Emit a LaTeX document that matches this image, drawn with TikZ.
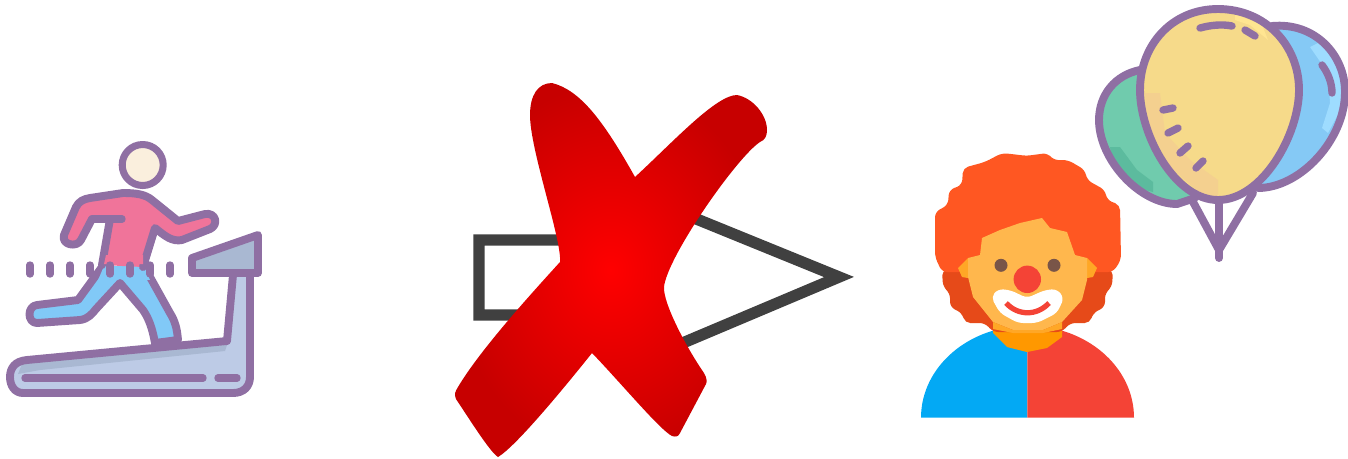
\documentclass[tikz,border=0pt]{standalone}
\usepackage{xcolor}
\usetikzlibrary{calc}
\definecolor{iconpurple}{HTML}{8F6FA3}
\definecolor{skincream}{HTML}{FAEFDD}
\definecolor{shirtpink}{HTML}{F0749A}
\definecolor{legblue}{HTML}{81C9F7}
\definecolor{deckblue}{HTML}{BDCBE6}
\definecolor{deckshade}{HTML}{A9B8D2}
\definecolor{arrowgray}{HTML}{404040}
\definecolor{hairorange}{HTML}{FF5722}
\definecolor{hairdark}{HTML}{E64A19}
\definecolor{clownface}{HTML}{FFB74D}
\definecolor{clownear}{HTML}{FFA726}
\definecolor{neckorange}{HTML}{FF9800}
\definecolor{clownblue}{HTML}{03A9F4}
\definecolor{clownred}{HTML}{F44336}
\definecolor{eyebrown}{HTML}{795548}
\definecolor{balloongreen}{HTML}{70CBAD}
\definecolor{greenshade}{HTML}{5CBB9E}
\definecolor{balloonblue}{HTML}{85C9F5}
\definecolor{bluelight}{HTML}{9EDCFF}
\definecolor{balloonyellow}{HTML}{F6DA8A}
\definecolor{yellowshade}{HTML}{F4D08F}
\definecolor{yellowlight}{HTML}{FFE591}
\tikzset{
  iconline/.style={draw=iconpurple,line width=4.5pt,line join=round,line cap=round},
  icontick/.style={iconpurple,line width=4.2pt,line cap=round}
}
\begin{document}
\begin{tikzpicture}[x=0.02cm,y=-0.02cm]
  \useasboundingbox (0,0) rectangle (1348,458);
  % treadmill
  \fill[deckblue] (233,275) -- (227,341) -- (27,360) .. controls (15,361) and (10,368) .. (10,377)
        .. controls (10,386) and (15,393) .. (23,393) -- (233,393)
        .. controls (244,393) and (250,386) .. (250,377) -- (250,275) -- cycle;
  \fill[deckshade] (227,345) -- (225,351) -- (40,370) -- (18,374) -- (22,364) -- (40,358) -- cycle;
  \draw[iconline] (233,275) -- (227,341) -- (27,360) .. controls (15,361) and (10,368) .. (10,377)
        .. controls (10,386) and (15,393) .. (23,393) -- (233,393)
        .. controls (244,393) and (250,386) .. (250,377) -- (250,275);
  \draw[icontick] (25,378) -- (203,378);
  \draw[icontick] (218,378) -- (237,378);
  \draw[iconline,fill=deckshade] (192,258) -- (258,235) -- (258,273) -- (192,273) -- cycle;
  % runner
  \draw[iconline,fill=legblue] (102,267) -- (78,300) -- (37,305) .. controls (27,306) and (27,323) .. (37,323)
        -- (80,320) .. controls (88,319) and (92,314) .. (96,309) -- (120,283) -- (143,310)
        .. controls (150,320) and (153,332) .. (155,343) -- (178,340)
        .. controls (177,328) and (175,321) .. (170,313) -- (145,268);
  \fill[legblue] (104,266) -- (144,266) -- (150,280) -- (120,278) -- (96,285) -- cycle;
  \draw[iconline,fill=shirtpink] (102,265) -- (110,219) -- (92,219) -- (81,240)
        .. controls (77,248) and (61,245) .. (64,235) -- (76,207)
        .. controls (79,201) and (84,199) .. (90,198) -- (123,193)
        .. controls (135,193) and (145,194) .. (152,200) -- (178,221) -- (205,214)
        .. controls (216,212) and (219,225) .. (210,229) -- (182,240)
        .. controls (172,242) and (165,236) .. (155,228) -- (143,267);
  \fill[shirtpink] (104,264) -- (143,264) -- (143,255) -- (106,255) -- cycle;
  \draw[icontick] (110,219) -- (122,219);
  \draw[iconline,fill=skincream,line width=4pt] (142.7,165) circle (20.5);
  \foreach \dotx in {30,50,70,90,110,130,150,170}
    \draw[icontick] (\dotx,265) -- (\dotx,274);
  % crossed out arrow
  \draw[arrowgray,line width=6.5pt,miter limit=10] (640,240) -- (479,240) -- (479,315) -- (640,315)
        (640,196) -- (839,277) -- (640,361);
  \shade[inner color=red,outer color=red!78!black] (552,83)
        .. controls (580,90) and (603,120) .. (635,177)
        .. controls (673,142) and (716,95) .. (737,95)
        .. controls (753,98) and (767,115) .. (767,130)
        .. controls (767,136) and (765,140) .. (760,142)
        .. controls (737,157) and (667,257) .. (664,287)
        .. controls (663,303) and (686,347) .. (704,373)
        .. controls (707,378) and (707,382) .. (706,384)
        -- (680,433) .. controls (678,437) and (676,437) .. (672,436)
        .. controls (660,430) and (620,382) .. (592,353)
        .. controls (560,393) and (515,447) .. (498,457)
        .. controls (490,452) and (470,420) .. (456,399)
        .. controls (454,394) and (455,392) .. (458,387)
        .. controls (480,350) and (530,295) .. (560,262)
        .. controls (562,240) and (530,150) .. (530,115)
        .. controls (530,95) and (538,83) .. (552,83) -- cycle;
  % clown
  \fill[clownblue] (921,417.7) arc[start angle=180,end angle=270,x radius=106.5,y radius=92] -- (1027.3,417.7) -- cycle;
  \fill[clownred] (1134,417.7) arc[start angle=0,end angle=-90,x radius=106.5,y radius=92] -- (1027.3,417.7) -- cycle;
  \fill[neckorange] (993,322) -- (1062,322) -- (1062,337) -- (1047,348) -- (1027,352) -- (1007,347) -- (993,333) -- cycle;
  \fill[hairdark,rounded corners=3pt] (942,270) -- (943,287) -- (950,293) -- (950,307) -- (962,313) -- (965,323)
        -- (985,323) -- (993,332) -- (1062,332) -- (1070,323) -- (1090,323) -- (1093,313) -- (1105,307)
        -- (1105,293) -- (1112,287) -- (1113,270) -- cycle;
  \fill[hairorange,rounded corners=3pt] (935,212) -- (948,205) -- (949,190) -- (962,185) -- (963,168) -- (985,162)
        -- (1002,153) -- (1020,155) -- (1025,156) -- (1048,153) -- (1053,160) -- (1068,160) -- (1085,170)
        -- (1087,180) -- (1105,190) -- (1107,200) -- (1120,205) -- (1121,260) -- (1113,272) -- (1060,272)
        -- (1000,272) -- (942,272) -- (935,257) -- cycle;
  \fill[clownear] (958,268) -- (968,258) -- (968,278) -- (962,277) -- cycle;
  \fill[clownear] (1097,268) -- (1087,258) -- (1087,278) -- (1093,277) -- cycle;
  \fill[clownface] (982,238) -- (1000,230) -- (1020,223) -- (1042,218) -- (1050,228) -- (1067,232) -- (1075,255)
        -- (1087,258) -- (1087,280) -- (1082,300) -- (1062,322) -- (1043,330) -- (1013,330) -- (993,322)
        -- (973,297) -- (968,277) -- (968,258) -- (980,255) -- cycle;
  \fill[clownear] (993,322) -- (1013,330) -- (1043,330) -- (1062,322) -- (1062,329) -- (1043,333) -- (1013,333) -- (993,329) -- cycle;
  \fill[eyebrown] (1001,265.3) circle (6.5);
  \fill[eyebrown] (1054,265.3) circle (6.5);
  \fill[white,rounded corners=3pt] (991,297) -- (998,289) -- (1010,290) -- (1027,298) -- (1045,290) -- (1057,289)
        -- (1064,298) -- (1057,313) -- (1037,323) -- (1018,323) -- (1000,313) -- cycle;
  \fill[clownred] (1027.3,279.3) circle (13.7);
  \draw[clownred,line width=3pt] (1006,303) .. controls (1018,316) and (1037,316) .. (1049,303);
  % balloons
  \fill[balloongreen] (1140,70) .. controls (1115,75) and (1099,95) .. (1099,120)
        .. controls (1099,160) and (1140,204) .. (1177,204) -- (1195,198) -- (1218,150) -- cycle;
  \fill[greenshade] (1110,147) -- (1120,147) -- (1137,170) -- (1153,182) -- (1153,192) -- (1133,187) -- (1113,163) -- cycle;
  \draw[iconline] (1140,70) .. controls (1115,75) and (1099,95) .. (1099,120)
        .. controls (1099,160) and (1140,204) .. (1177,204) -- (1195,198);
  \fill[balloonblue] (1272,26) .. controls (1315,22) and (1345,55) .. (1345,92)
        .. controls (1345,140) and (1300,188) .. (1258,188) -- (1230,150) -- cycle;
  \fill[bluelight] (1310,47) -- (1320,42) -- (1340,70) -- (1342,107) -- (1328,133) -- (1322,128) -- (1330,103) -- (1328,73) -- cycle;
  \draw[iconline] (1272,26) .. controls (1315,22) and (1345,55) .. (1345,92)
        .. controls (1345,140) and (1300,188) .. (1258,188);
  \draw[icontick] (1322,65) .. controls (1328,73) and (1332,83) .. (1332,93);
  \draw[iconline] (1192,200) -- (1219,250) -- (1253,193);
  \draw[iconline] (1219,200) -- (1219,258);
  \fill[balloonyellow] (1218,9) .. controls (1265,9) and (1299,45) .. (1299,90)
        .. controls (1299,135) and (1262,200) .. (1218,200)
        .. controls (1175,200) and (1140,135) .. (1140,90)
        .. controls (1140,45) and (1172,9) .. (1218,9) -- cycle;
  \fill[yellowshade] (1145,93) -- (1160,93) -- (1165,133) -- (1190,160) -- (1218,180) -- (1218,197) -- (1200,193) -- (1170,167) -- (1147,123) -- cycle;
  \fill[yellowlight] (1235,14) -- (1262,25) -- (1268,40) -- (1250,25) -- (1235,20) -- cycle;
  \draw[iconline] (1218,9) .. controls (1265,9) and (1299,45) .. (1299,90)
        .. controls (1299,135) and (1262,200) .. (1218,200)
        .. controls (1175,200) and (1140,135) .. (1140,90)
        .. controls (1140,45) and (1172,9) .. (1218,9) -- cycle;
  \draw[icontick] (1200,28) .. controls (1211,25) and (1222,24) .. (1232,26);
  \draw[icontick] (1245,30) -- (1255,36);
  \draw[icontick] (1163,110) -- (1173,108);
  \draw[icontick] (1168,133) -- (1178,128);
  \draw[icontick] (1180,153) -- (1188,146);
  \draw[icontick] (1196,168) -- (1203,161);
\end{tikzpicture}
\end{document}
